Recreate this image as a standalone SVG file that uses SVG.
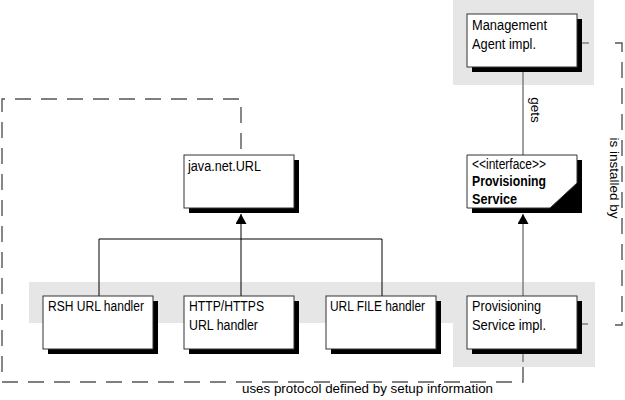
<svg xmlns="http://www.w3.org/2000/svg" width="625" height="400" viewBox="0 0 625 400">
<defs>
<style>
.band{fill:#e6e6e6;stroke:none}
.shadow{fill:#000}
.box{fill:#fff;stroke:#333;stroke-width:1}
.t{font-family:"Liberation Sans",Arial,sans-serif;font-size:14px;fill:#000}
.b{font-weight:bold}
.lbl{font-family:"Liberation Sans",Arial,sans-serif;font-size:13.5px;fill:#000}
.tree{fill:none;stroke:#000;stroke-width:1}
.gline{fill:none;stroke:#808080;stroke-width:1.5}
.dash{fill:none;stroke:#555;stroke-width:1.4;stroke-dasharray:16 10}
</style>
<marker id="arr" markerWidth="12" markerHeight="12" refX="10" refY="5.5" orient="auto" markerUnits="userSpaceOnUse">
<path d="M0,0 L10,5.5 L0,11 Z" fill="#000"/>
</marker>
</defs>

<g id="bands">
<rect class="band" x="453" y="0" width="141" height="85"/>
<polygon class="band" points="29,282 595,282 595,367 453,367 453,323 29,323"/>
</g>

<g id="connectors">
<path class="tree" d="M241,296 V214" marker-end="url(#arr)"/>
<path class="tree" d="M99,296 V239 H382 V296"/>
<line class="gline" x1="523" y1="72" x2="523" y2="155"/>
<path class="gline" d="M523,296 V214" marker-end="url(#arr)"/>
<line class="gline" x1="582" y1="43" x2="589" y2="43"/>
<line class="gline" x1="581" y1="324" x2="588" y2="324"/>
<line class="gline" x1="523" y1="354" x2="523" y2="362"/>
<path class="dash" d="M615,43 H622 V325 H615"/>
<path class="dash" d="M523,367 V382 H2 V99 H241 V155"/>
<text class="lbl" transform="translate(531,110) rotate(90)" text-anchor="middle">gets</text>
<text class="lbl" transform="translate(610,178) rotate(90)" text-anchor="middle">is installed by</text>
<text class="lbl" x="242" y="393" textLength="251" lengthAdjust="spacingAndGlyphs">uses protocol defined by setup information</text>
</g>

<g id="management-agent">
<rect class="shadow" x="472" y="19" width="110" height="53"/>
<rect class="box" x="467" y="14" width="110" height="53"/>
<text class="t" x="472" y="30" textLength="75" lengthAdjust="spacingAndGlyphs">Management</text>
<text class="t" x="472" y="49" textLength="64" lengthAdjust="spacingAndGlyphs">Agent impl.</text>
</g>

<g id="provisioning-service">
<rect class="shadow" x="472" y="160" width="110" height="53"/>
<polygon class="box" points="467,155 577,155 577,183 550,208 467,208"/>
<text class="t" x="472" y="169" textLength="74" lengthAdjust="spacingAndGlyphs">&lt;&lt;interface&gt;&gt;</text>
<text class="t b" x="472" y="186" textLength="74" lengthAdjust="spacingAndGlyphs">Provisioning</text>
<text class="t b" x="472" y="204" textLength="45" lengthAdjust="spacingAndGlyphs">Service</text>
</g>

<g id="java-net-url">
<rect class="shadow" x="189" y="160" width="110" height="53"/>
<rect class="box" x="184" y="155" width="110" height="53"/>
<text class="t" x="188" y="171" textLength="73" lengthAdjust="spacingAndGlyphs">java.net.URL</text>
</g>

<g id="rsh-handler">
<rect class="shadow" x="48" y="301" width="110" height="53"/>
<rect class="box" x="43" y="296" width="110" height="53"/>
<text class="t" x="48" y="311" textLength="96" lengthAdjust="spacingAndGlyphs">RSH URL handler</text>
</g>

<g id="http-handler">
<rect class="shadow" x="189" y="301" width="110" height="53"/>
<rect class="box" x="184" y="296" width="110" height="53"/>
<text class="t" x="189" y="311" textLength="75" lengthAdjust="spacingAndGlyphs">HTTP/HTTPS</text>
<text class="t" x="189" y="330" textLength="69" lengthAdjust="spacingAndGlyphs">URL handler</text>
</g>

<g id="file-handler">
<rect class="shadow" x="331" y="301" width="110" height="53"/>
<rect class="box" x="326" y="296" width="110" height="53"/>
<text class="t" x="330" y="311" textLength="95" lengthAdjust="spacingAndGlyphs">URL FILE handler</text>
</g>

<g id="provisioning-impl">
<rect class="shadow" x="472" y="301" width="110" height="53"/>
<rect class="box" x="467" y="296" width="110" height="53"/>
<text class="t" x="472" y="311" textLength="69" lengthAdjust="spacingAndGlyphs">Provisioning</text>
<text class="t" x="472" y="330" textLength="74" lengthAdjust="spacingAndGlyphs">Service impl.</text>
</g>
</svg>
